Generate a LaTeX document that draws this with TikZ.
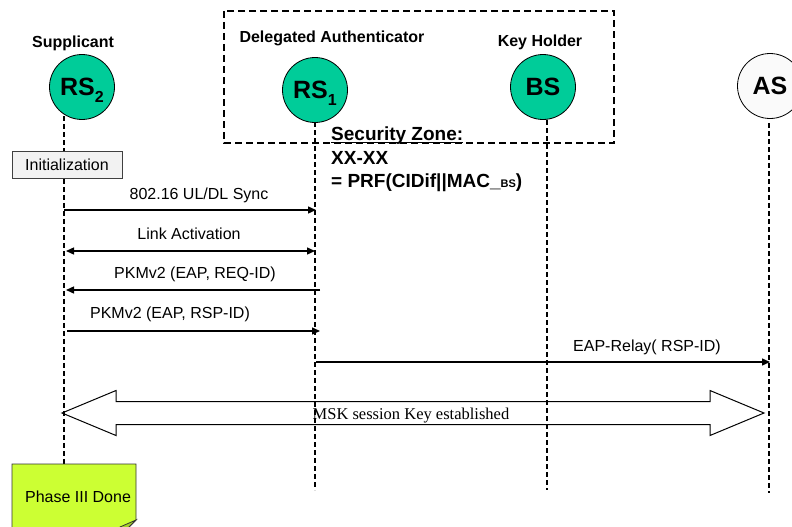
\documentclass[tikz,border=0pt]{standalone}
\usepackage{fontspec}
\setmainfont{Liberation Serif}
\newfontfamily\arial{Liberation Sans}
\usetikzlibrary{arrows.meta,calc}
\definecolor{entcol}{RGB}{0,204,153}
\definecolor{notecol}{RGB}{204,255,51}
\definecolor{foldcol}{RGB}{165,210,40}
\begin{document}
\begin{tikzpicture}[x=1pt,y=-1pt,
  ent/.style={circle,draw=black,line width=0.8pt,fill=entcol,minimum size=65pt,inner sep=0pt,font=\arial\bfseries\fontsize{25}{25}\selectfont},
  role/.style={font=\arial\bfseries\fontsize{16}{19}\selectfont,inner sep=0pt},
  life/.style={line width=1.4pt,dash pattern=on 5pt off 3pt},
  zone/.style={line width=1.4pt,dash pattern=on 7pt off 4pt},
  msg/.style={line width=1.4pt,-{Triangle[length=8pt,width=7pt]}},
  msgboth/.style={line width=1.4pt,{Triangle[length=8pt,width=7pt]}-{Triangle[length=8pt,width=7pt]}},
  lbl/.style={font=\arial\fontsize{16}{19}\selectfont,inner sep=0pt,anchor=base},
  sz/.style={font=\arial\bfseries\fontsize{19}{23}\selectfont,inner sep=0pt,anchor=base west},
  initbox/.style={draw=black!75,line width=0.8pt,fill=black!5,minimum width=110pt,minimum height=27pt,inner sep=0pt,font=\arial\fontsize{16}{19}\selectfont},
  bigarrow/.style={draw=black,line width=1pt},
  notest/.style={draw=black!80,line width=0.8pt,fill=notecol},
]
\useasboundingbox (0,0) rectangle (792,527);
\clip (0,0) rectangle (792,527);

% security zone box
\draw[zone] (224,11) rectangle (614,143);

% lifeline anchor coordinates
\coordinate (l2top) at (64,116);
\coordinate (notetop) at (64,464);
\coordinate (l1top) at (315,122);
\coordinate (l1end) at (315,490);
\coordinate (lbtop) at (547,120);
\coordinate (lbend) at (547,490);
\coordinate (latop) at (769,123);
\coordinate (laend) at (769,493);

\node[initbox] (init) at (67,165) {Initialization};

% lifelines
\draw[life] (l2top) -- (l2top |- init.north);
\draw[life] (l2top |- init.south) -- (notetop);
\draw[life] (l1top) -- (l1end);
\draw[life] (lbtop) -- (lbend);
\draw[life] (latop) -- (laend);

% entities
\node[ent] (rs2) at (82,87) {RS\smash{\raisebox{-7pt}{\fontsize{16}{16}\selectfont 2}}};
\node[ent] (rs1) at (315,90) {RS\smash{\raisebox{-7pt}{\fontsize{16}{16}\selectfont 1}}};
\node[ent] (bs) at (543,87) {BS};
\node[ent,fill=black!2] (as) at (770,86) {AS};

% roles
\node[role] (sup) at (73,43) {Supplicant};
\node[role] (del) at (332,38) {Delegated Authenticator};
\node[role] (kh) at (540,42) {Key Holder};

% security zone text
\node[sz] (sz1) at (331,140) {Security Zone:};
\draw[line width=1.3pt] ([yshift=-2.5pt]sz1.base west) -- ([yshift=-2.5pt]sz1.base east);
\node[sz] (sz2) at (331,164) {XX-XX};
\node[sz] (sz3) at (331,187) {= PRF(CIDif||MAC\_{\fontsize{11}{11}\selectfont BS})};

% messages
\coordinate (m1a) at (64,210);  \coordinate (m1b) at (316,210);
\coordinate (m2a) at (66,251);  \coordinate (m2b) at (315,251);
\coordinate (m3a) at (320,290); \coordinate (m3b) at (66,290);
\coordinate (m4a) at (67,331);  \coordinate (m4b) at (320,331);
\coordinate (m5a) at (316,362); \coordinate (m5b) at (770,362);
\draw[msg] (m1a) -- (m1b);
\draw[msgboth] (m2a) -- (m2b);
\draw[msg] (m3a) -- (m3b);
\draw[msg] (m4a) -- (m4b);
\draw[msg] (m5a) -- (m5b);
\node[lbl] (t1) at (199,199) {802.16 UL/DL Sync};
\node[lbl] (t2) at (189,239) {Link Activation};
\node[lbl] (t3) at (195,278) {PKMv2 (EAP, REQ-ID)};
\node[lbl] (t4) at (170,318) {PKMv2 (EAP, RSP-ID)};
\node[lbl] (t5) at (647,351) {EAP-Relay( RSP-ID)};

% MSK double arrow
\coordinate (mskL) at (62,413);
\coordinate (mskR) at (764,413);
\draw[bigarrow] (mskL) -- ($(mskL)+(54,-22.5)$) -- ($(mskL)+(54,-11.5)$) -- ($(mskR)+(-54,-11.5)$) -- ($(mskR)+(-54,-22.5)$) -- (mskR) -- ($(mskR)+(-54,22.5)$) -- ($(mskR)+(-54,11.5)$) -- ($(mskL)+(54,11.5)$) -- ($(mskL)+(54,22.5)$) -- cycle;
\node[font=\fontsize{16.5}{19}\selectfont,inner sep=0pt,anchor=base] (msk) at (411,419) {MSK session Key established};

% note
\draw[notest] (12,464) -- (136,464) -- (136,520) -- (116,540) -- (12,540) -- cycle;
\draw[draw=black!80,line width=0.8pt,fill=foldcol] (136,520) -- (120,527) -- (116,540) -- cycle;
\node[font=\arial\fontsize{16}{19}\selectfont,inner sep=0pt,anchor=base] (done) at (78,502) {Phase III Done};
\end{tikzpicture}
\end{document}
